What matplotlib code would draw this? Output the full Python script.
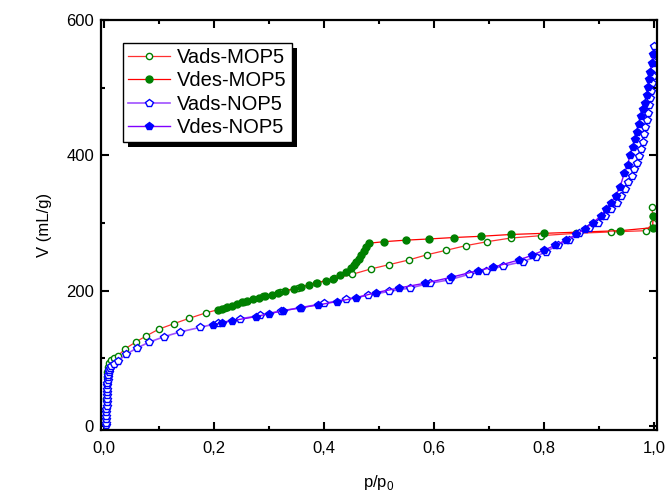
import numpy as np
import matplotlib
matplotlib.use("Agg")
import matplotlib.pyplot as plt
from matplotlib.patches import Rectangle
from matplotlib.ticker import MultipleLocator, FuncFormatter

plt.rcParams['font.family'] = ['Liberation Sans', 'DejaVu Sans']
plt.rcParams['mathtext.fontset'] = 'custom'
plt.rcParams['mathtext.rm'] = 'Liberation Sans'

# MOP5 adsorption (open green circles)
p_ads_mop = [0.0045, 0.0048, 0.005, 0.0053, 0.0056, 0.006, 0.0065, 0.0072, 0.009, 0.013,
             0.018, 0.026, 0.039, 0.058, 0.077, 0.100, 0.127, 0.155, 0.185, 0.220,
             0.255, 0.290, 0.320, 0.352, 0.385, 0.418, 0.451, 0.485, 0.519, 0.554,
             0.587, 0.622, 0.658, 0.697, 0.740, 0.794, 0.858, 0.921, 0.985, 0.997,
             0.997, 0.996]
v_ads_mop = [10, 25, 40, 55, 65, 73, 80, 87, 93, 98,
             101, 104, 114, 124, 133, 143, 151, 159, 167, 174.5,
             183.5, 191.5, 197.5, 204, 211, 218, 224, 232, 238.5, 245.3,
             253, 259.6, 266.5, 272.4, 277.8, 281.2, 284.7, 286.7, 288.6, 299.5,
             310, 323]

# MOP5 desorption (filled green circles)
p_des_mop = [0.998, 0.997, 0.938, 0.800, 0.740, 0.685, 0.636, 0.590, 0.549, 0.510,
             0.481, 0.477, 0.472, 0.468, 0.463, 0.459, 0.454, 0.450, 0.440, 0.430,
             0.416, 0.403, 0.387, 0.373, 0.359, 0.345, 0.330, 0.317, 0.305, 0.293,
             0.282, 0.271, 0.261, 0.251, 0.242, 0.233, 0.224, 0.215, 0.2075]
v_des_mop = [310, 293, 288.6, 284.7, 283, 280.3, 278.5, 276.3, 274.6, 272.4,
             270, 265, 258, 252, 247, 242, 238, 233, 228, 223.1,
             217.7, 214.7, 211.3, 208.4, 205.4, 202.4, 200, 197, 194.1, 192.1,
             189.2, 187.2, 185.2, 182.8, 180.3, 177.8, 175.4, 173.4, 171.4]

# NOP5 adsorption (open blue pentagons)
p_ads_nop = [0.0045, 0.0046, 0.0047, 0.0048, 0.0049, 0.005, 0.0051, 0.0052, 0.0053, 0.0055,
             0.0057, 0.0059, 0.0062, 0.0065, 0.0069, 0.0074, 0.0080, 0.0088, 0.0099, 0.0115,
             0.014, 0.018, 0.026, 0.041, 0.060, 0.083, 0.110, 0.139, 0.174, 0.207,
             0.247, 0.283, 0.322, 0.359, 0.401, 0.440, 0.480, 0.519, 0.557, 0.593,
             0.628, 0.663, 0.695, 0.725, 0.761, 0.785, 0.803, 0.826, 0.845, 0.864,
             0.882, 0.897, 0.911, 0.922, 0.932, 0.940, 0.946, 0.952, 0.959, 0.964,
             0.968, 0.973, 0.976, 0.979, 0.982, 0.984, 0.986, 0.9885, 0.991, 0.9927,
             0.994, 0.9958, 0.997, 0.9987, 0.999, 0.9995, 1.0]
v_ads_nop = [1, 5, 10, 15, 20, 25, 30, 35, 40, 45,
             50, 55, 60, 64, 68, 72, 76, 80, 83, 86,
             89, 92, 96, 106, 115, 124, 132, 139, 145.5, 151.7,
             158, 163.5, 170, 175, 181.3, 187.2, 193.1, 199, 204, 211,
             216, 224, 229.5, 236.4, 242.8, 250, 257.6, 267.5, 275, 284.5,
             292, 300.5, 310, 320, 330, 340, 350, 360, 369.4, 379.3,
             389.1, 399.4, 409.8, 420.2, 431, 441.9, 452.2, 463, 474.4, 484.3,
             495.5, 506.4, 517, 527.6, 538, 549.7, 562]

# NOP5 desorption (filled blue pentagons)
p_des_nop = [0.998, 0.9958, 0.9927, 0.991, 0.988, 0.986, 0.9836, 0.980, 0.976, 0.9715,
             0.968, 0.9655, 0.9606, 0.956, 0.9515, 0.9456, 0.938, 0.930, 0.921, 0.912,
             0.903, 0.888, 0.874, 0.858, 0.840, 0.820, 0.800, 0.778, 0.754, 0.707,
             0.679, 0.630, 0.583, 0.537, 0.494, 0.459, 0.423, 0.389, 0.356, 0.325,
             0.300, 0.276, 0.233, 0.215, 0.198]
v_des_nop = [550, 536, 523.6, 512.4, 501.4, 489, 477.8, 468, 458, 447,
             435, 423.7, 411.8, 400, 385.7, 373.4, 353.6, 340.3, 330, 320,
             310.3, 300, 291, 283, 274.9, 267, 260, 252.2, 245.3, 234.5,
             229.5, 219.5, 210.9, 204, 197, 189.6, 183.7, 178.8, 174.5, 170,
             166, 161.5, 155.6, 152.7, 149.2]

fig = plt.figure(figsize=(6.7, 4.97), dpi=100)
ax = fig.add_axes([0.1507, 0.1348, 0.8299, 0.825])

ax.plot(p_ads_mop, v_ads_mop, color='#ff3030', lw=0.9, marker='o', ms=4.5,
        mfc='white', mec='#008000', mew=1.0, label='Vads-MOP5')
ax.plot(p_des_mop, v_des_mop, color='#ff0000', lw=0.9, marker='o', ms=5,
        mfc='#008000', mec='#008000', label='Vdes-MOP5')
ax.plot(p_ads_nop, v_ads_nop, color='#a050ff', lw=1.2, marker='p', ms=5.5,
        mfc='white', mec='#0000ff', mew=1.0, label='Vads-NOP5')
ax.plot(p_des_nop, v_des_nop, color='#8000ff', lw=1.0, marker='p', ms=6,
        mfc='#0000ff', mec='#0000ff', label='Vdes-NOP5')

ax.set_xlim(-0.005, 1.005)
ax.set_ylim(-6, 600)
ax.xaxis.set_major_locator(MultipleLocator(0.2))
ax.xaxis.set_minor_locator(MultipleLocator(0.1))
ax.yaxis.set_major_locator(MultipleLocator(200))
ax.yaxis.set_minor_locator(MultipleLocator(100))
ax.xaxis.set_major_formatter(FuncFormatter(lambda v, pos: ('%.1f' % v).replace('.', ',')))
ax.tick_params(which='both', direction='in', top=True, right=True, labelsize=12, width=1.5)
ax.tick_params(which='major', length=6, pad=8)
ax.tick_params(which='minor', length=3)
ax.tick_params(axis='y', which='major', pad=5)
for s in ax.spines.values():
    s.set_linewidth(1.6)

ax.set_xlabel(r'p/p$_\mathregular{0}$', fontsize=12, labelpad=12)
ax.set_ylabel('V (mL/g)', fontsize=12, labelpad=10)

leg = ax.legend(loc='upper left', bbox_to_anchor=(0.0396, 0.9446), borderaxespad=0,
                fontsize=14.5, fancybox=False, edgecolor='black', framealpha=1,
                handlelength=2.1, labelspacing=0.22, handletextpad=0.35,
                borderpad=0.25)
leg.get_frame().set_linewidth(1.0)

# black drop shadow behind the legend box
fig.canvas.draw()
bb = leg.get_window_extent()
shadow = Rectangle((bb.x0 + 5, bb.y0 - 5), bb.width, bb.height, transform=None,
                   facecolor='black', edgecolor='none', zorder=4.9)
ax.add_artist(shadow)

fig.savefig('out.png', dpi=100)
